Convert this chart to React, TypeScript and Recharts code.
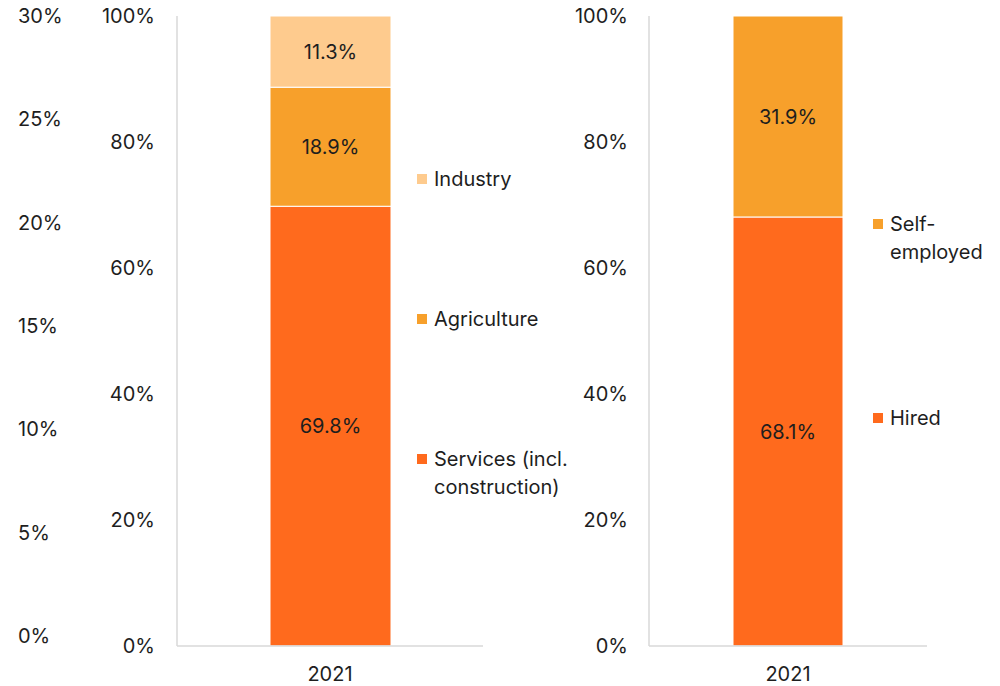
import React from 'react';
import { BarChart, Bar, XAxis, YAxis, LabelList } from 'recharts';

const years = ['2021'];

// left panel: employment by sector, share of total
const services = [69.8];
const agriculture = [18.9];
const industry = [11.3];

// right panel: employment status
const hired = [68.1];
const selfEmployed = [31.9];

const shareTicks = [0, 20, 40, 60, 80, 100];
const outerTicks = [0, 5, 10, 15, 20, 25, 30];

const COLORS = {
  services: '#FF6A1D',
  agriculture: '#F7A02B',
  industry: '#FECB8E',
  hired: '#FF6A1D',
  selfEmployed: '#F7A02B',
};

const TEXT = '#1e1e1e';
const AXIS = '#d9d9d9';
const FONT = 20;

const sectorData = years.map((year, i) => ({
  year,
  services: services[i],
  agriculture: agriculture[i],
  industry: industry[i],
}));

const statusData = years.map((year, i) => ({
  year,
  hired: hired[i],
  selfEmployed: selfEmployed[i],
}));

const pct = (v: any) => `${Number(v).toFixed(1)}%`;

function LegendItem({ color, lines, x, y }: { color: string; lines: string[]; x: number; y: number }) {
  return (
    <div style={{ position: 'absolute', left: x, top: y, display: 'flex', alignItems: 'flex-start' }}>
      <span style={{ width: 10, height: 10, background: color, marginTop: 9, marginRight: 7 }} />
      <span style={{ fontSize: FONT, lineHeight: '28px', color: TEXT }}>
        {lines.map((l) => (
          <div key={l}>{l}</div>
        ))}
      </span>
    </div>
  );
}

const OuterTick = (props: any) => {
  const { y, payload } = props;
  return (
    <text x={18} y={y} dy="0.355em" textAnchor="start" fontSize={FONT} fill={TEXT}>
      {`${payload.value}%`}
    </text>
  );
};

export default function App() {
  return (
    <div style={{ position: 'absolute', left: 0, top: 0, width: 1000, height: 686, background: '#fff', fontFamily: 'Inter, sans-serif' }}>
      <div style={{ position: 'absolute', left: 0, top: 0 }}>
        <BarChart width={500} height={686} data={sectorData} margin={{ top: 16, right: 17, bottom: 0, left: 100 }}>
          <XAxis
            dataKey="year"
            height={40}
            axisLine={{ stroke: AXIS, strokeWidth: 1.5 }}
            tickLine={false}
            tickMargin={15}
            tick={{ fontSize: FONT, fill: TEXT }}
          />
          <YAxis
            width={77}
            domain={[0, 100]}
            ticks={shareTicks}
            tickFormatter={(v) => `${v}%`}
            axisLine={{ stroke: AXIS, strokeWidth: 1.5 }}
            tickLine={false}
            tickMargin={16}
            tick={{ fontSize: FONT, fill: TEXT }}
          />
          <Bar dataKey="services" stackId="a" fill={COLORS.services} stroke="#fff" strokeWidth={1} barSize={121} isAnimationActive={false}>
            <LabelList dataKey="services" position="center" formatter={pct} style={{ fontSize: FONT, fill: TEXT }} />
          </Bar>
          <Bar dataKey="agriculture" stackId="a" fill={COLORS.agriculture} stroke="#fff" strokeWidth={1} barSize={121} isAnimationActive={false}>
            <LabelList dataKey="agriculture" position="center" formatter={pct} style={{ fontSize: FONT, fill: TEXT }} />
          </Bar>
          <Bar dataKey="industry" stackId="a" fill={COLORS.industry} stroke="#fff" strokeWidth={1} barSize={121} isAnimationActive={false}>
            <LabelList dataKey="industry" position="center" formatter={pct} style={{ fontSize: FONT, fill: TEXT }} />
          </Bar>
        </BarChart>
      </div>

      {/* standalone 0-30% scale on the far left */}
      <div style={{ position: 'absolute', left: 0, top: 0 }}>
        <BarChart width={80} height={686} data={sectorData} margin={{ top: 16, right: 0, bottom: 50, left: 0 }}>
          <XAxis dataKey="year" hide />
          <YAxis
            type="number"
            width={70}
            domain={[0, 30]}
            allowDataOverflow
            ticks={outerTicks}
            axisLine={false}
            tickLine={false}
            tick={<OuterTick />}
          />
        </BarChart>
      </div>

      <LegendItem color={COLORS.industry} lines={['Industry']} x={417} y={165} />
      <LegendItem color={COLORS.agriculture} lines={['Agriculture']} x={417} y={305} />
      <LegendItem color={COLORS.services} lines={['Services (incl.', 'construction)']} x={417} y={445} />

      <div style={{ position: 'absolute', left: 520, top: 0 }}>
        <BarChart width={420} height={686} data={statusData} margin={{ top: 16, right: 13, bottom: 0, left: 52 }}>
          <XAxis
            dataKey="year"
            height={40}
            axisLine={{ stroke: AXIS, strokeWidth: 1.5 }}
            tickLine={false}
            tickMargin={15}
            tick={{ fontSize: FONT, fill: TEXT }}
          />
          <YAxis
            width={77}
            domain={[0, 100]}
            ticks={shareTicks}
            tickFormatter={(v) => `${v}%`}
            axisLine={{ stroke: AXIS, strokeWidth: 1.5 }}
            tickLine={false}
            tickMargin={15}
            tick={{ fontSize: FONT, fill: TEXT }}
          />
          <Bar dataKey="hired" stackId="b" fill={COLORS.hired} stroke="#fff" strokeWidth={1} barSize={110} isAnimationActive={false}>
            <LabelList dataKey="hired" position="center" formatter={pct} style={{ fontSize: FONT, fill: TEXT }} />
          </Bar>
          <Bar dataKey="selfEmployed" stackId="b" fill={COLORS.selfEmployed} stroke="#fff" strokeWidth={1} barSize={110} isAnimationActive={false}>
            <LabelList dataKey="selfEmployed" position="center" formatter={pct} style={{ fontSize: FONT, fill: TEXT }} />
          </Bar>
        </BarChart>
      </div>

      <LegendItem color={COLORS.selfEmployed} lines={['Self-', 'employed']} x={873} y={210} />
      <LegendItem color={COLORS.hired} lines={['Hired']} x={873} y={404} />
    </div>
  );
}
